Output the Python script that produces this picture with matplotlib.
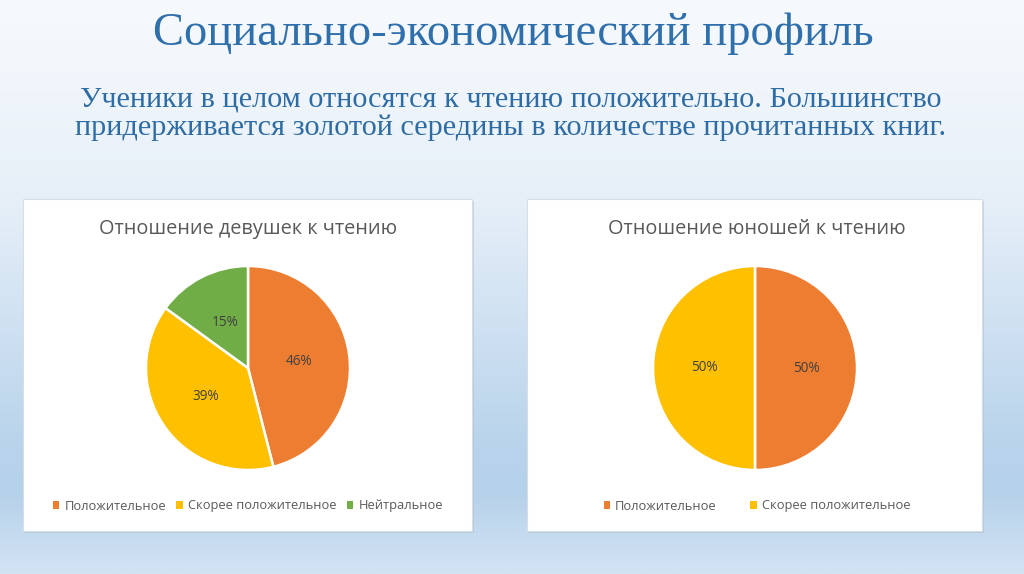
import matplotlib
matplotlib.use("Agg")
import matplotlib.pyplot as plt
import numpy as np
from matplotlib.patches import Rectangle, Patch
from matplotlib.colors import LinearSegmentedColormap

W, H = 1024, 574

title = "Социально-экономический профиль"
subtitle = ("Ученики в целом относятся к чтению положительно. Большинство\n"
            "придерживается золотой середины в количестве прочитанных книг.")

girls_title = "Отношение девушек к чтению"
girls_labels = ["Положительное", "Скорее положительное", "Нейтральное"]
girls_values = [46, 39, 15]

boys_title = "Отношение юношей к чтению"
boys_labels = ["Положительное", "Скорее положительное"]
boys_values = [50, 50]

colors = {"Положительное": "#ED7D31",
          "Скорее положительное": "#FFC000",
          "Нейтральное": "#70AD47"}

SANS = ["Open Sans", "DejaVu Sans"]
SERIF = ["Liberation Serif", "DejaVu Serif"]

fig = plt.figure(figsize=(W / 100, H / 100), dpi=100)

# background gradient
bg = fig.add_axes([0, 0, 1, 1])
bg_cmap = LinearSegmentedColormap.from_list(
    "bg", [(0.0, "#f7fafd"), (0.35, "#e6eff8"), (0.78, "#b8d3eb"),
           (0.86, "#b6d1ea"), (1.0, "#d2e3f3")])
grad = np.linspace(0, 1, 256).reshape(-1, 1)
bg.imshow(grad, aspect="auto", cmap=bg_cmap, extent=[0, 1, 0, 1], origin="upper")
bg.set_xlim(0, 1)
bg.set_ylim(0, 1)
bg.axis("off")


def px(x0, y0, x1, y1):
    # pixel box (top-left origin) -> figure rect
    return [x0 / W, 1 - y1 / H, (x1 - x0) / W, (y1 - y0) / H]


# white chart boxes with faint shadow
for x0, x1 in [(23, 472), (527, 982)]:
    r = px(x0, 199, x1, 531)
    fig.patches.append(Rectangle((r[0] + 1.5 / W, r[1] - 1.5 / H), r[2], r[3],
                                 transform=fig.transFigure, facecolor="#aebfcf",
                                 edgecolor="none", alpha=0.5, zorder=1))
    fig.patches.append(Rectangle((r[0], r[1]), r[2], r[3], transform=fig.transFigure,
                                 facecolor="white", edgecolor="#d6dde5", lw=0.8, zorder=2))

fig.text(513 / W, 1 - 34 / H, title, ha="center", va="center", fontsize=33.5,
         family=SERIF, color="#2F6FAB")
fig.text(511 / W, 1 - 114 / H, subtitle, ha="center", va="center", fontsize=21.8,
         family=SERIF, color="#2E6CA5", linespacing=1.1)


def draw_pie(cx, cy, r, labels, values, ttl, tx, leg_spacing):
    ax = fig.add_axes(px(cx - r, cy - r, cx + r, cy + r))
    ax.set_zorder(5)
    wedges, _, autotexts = ax.pie(values, colors=[colors[l] for l in labels],
                                  startangle=90, counterclock=False,
                                  autopct="%1.0f%%", pctdistance=0.5,
                                  wedgeprops=dict(edgecolor="white", linewidth=1.8),
                                  textprops=dict(fontsize=9.8, color="#404040", family=SANS))
    ax.set_xlim(-1.0, 1.0)
    ax.set_ylim(-1.0, 1.0)
    ax.set_aspect("equal")
    fig.text(tx / W, 1 - 229 / H, ttl, ha="center", va="center", fontsize=14.3,
             family=SANS, color="#595959", zorder=6)
    handles = [Patch(facecolor=colors[l], edgecolor="none") for l in labels]
    leg = fig.legend(handles, labels, loc="center", bbox_to_anchor=(tx / W, 1 - 506 / H),
                     ncol=len(labels), frameon=False,
                     handlelength=0.5, handleheight=0.5, handletextpad=0.4,
                     columnspacing=leg_spacing, prop=dict(family=SANS, size=9.3))
    for t in leg.get_texts():
        t.set_color("#595959")
    leg.set_zorder(6)


draw_pie(248, 368, 102, girls_labels, girls_values, girls_title, 248, 0.8)
draw_pie(755, 368, 102, boys_labels, boys_values, boys_title, 757, 2.6)

fig.savefig("out.png", dpi=100)
